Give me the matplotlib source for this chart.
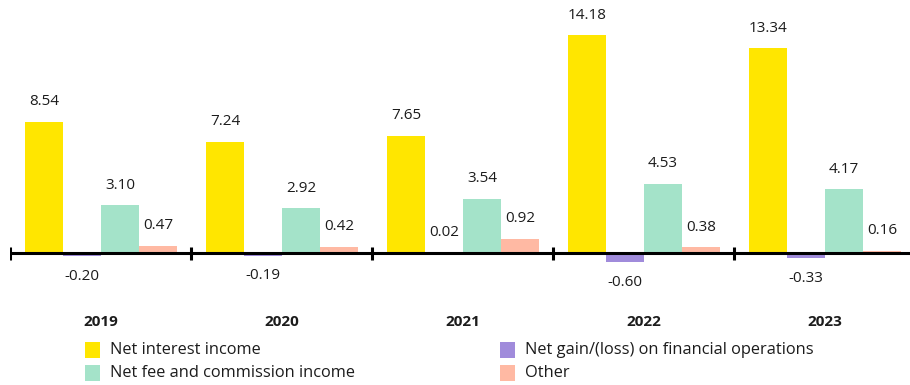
import matplotlib
matplotlib.use("Agg")
import matplotlib.pyplot as plt
from matplotlib.patches import Rectangle
import numpy as np

plt.rcParams['font.family'] = ['Open Sans', 'DejaVu Sans']

years = ["2019", "2020", "2021", "2022", "2023"]
series_names = [
    "Net interest income",
    "Net gain/(loss) on financial operations",
    "Net fee and commission income",
    "Other",
]
net_interest = [8.54, 7.24, 7.65, 14.18, 13.34]
net_gain_loss = [-0.20, -0.19, 0.02, -0.60, -0.33]
net_fee = [3.10, 2.92, 3.54, 4.53, 4.17]
other = [0.47, 0.42, 0.92, 0.38, 0.16]

colors = ["#FFE600", "#A08BDB", "#A4E3C9", "#FFB9A3"]
text_color = "#1c1c1c"

W, H = 910, 385
fig = plt.figure(figsize=(W / 100, H / 100), dpi=100)

# axes spans from x=10px to 915px; zero line sits 132px above the bottom
px_per_unit = 15.34
left_px, right_px = 10, 915
ax = fig.add_axes([left_px / W, 0, (right_px - left_px) / W, 1])
ax.set_xlim(0, 5)
ax.set_ylim(-132 / px_per_unit, (H - 132) / px_per_unit)
ax.axis("off")

grp_px = (right_px - left_px) / 5
bar_w = 38 / grp_px
pad = 15 / grp_px
x = np.arange(len(years))
all_series = [net_interest, net_gain_loss, net_fee, other]
lab_off = 20 / px_per_unit

for k, (vals, c) in enumerate(zip(all_series, colors)):
    centers = x + pad + bar_w / 2 + k * bar_w
    ax.bar(centers, vals, width=bar_w, color=c, zorder=2, linewidth=0)
    for cx, v in zip(centers, vals):
        if v >= 0:
            ax.text(cx, v + lab_off, f"{v:.2f}", ha="center", va="center",
                    fontsize=11, color=text_color)
        else:
            ax.text(cx, v - lab_off, f"{v:.2f}", ha="center", va="center",
                    fontsize=11, color=text_color)

# baseline with group separator ticks
ax.axhline(0, color="black", lw=2.2, zorder=3)
tick_h = 6.5 / px_per_unit
ax.vlines(np.arange(0, 6), -tick_h, tick_h, color="black", lw=2.2, zorder=3)

# year labels
year_y = -(322 - 253) / px_per_unit
for xi, yr in zip(x, years):
    ax.text(xi + 0.5, year_y, yr, ha="center", va="center", fontsize=11,
            fontweight="bold", color=text_color)

# legend
legend_items = [
    (85, 350, colors[0], series_names[0]),
    (85, 373, colors[2], series_names[2]),
    (500, 350, colors[1], series_names[1]),
    (500, 373, colors[3], series_names[3]),
]
for lx, ly, c, name in legend_items:
    fig.patches.append(Rectangle((lx / W, 1 - (ly + 8) / H), 15 / W, 16 / H,
                                 transform=fig.transFigure, color=c, lw=0))
    fig.text((lx + 25) / W, 1 - ly / H, name, ha="left", va="center",
             fontsize=11.8, color=text_color)

fig.savefig("out.png", dpi=100)
